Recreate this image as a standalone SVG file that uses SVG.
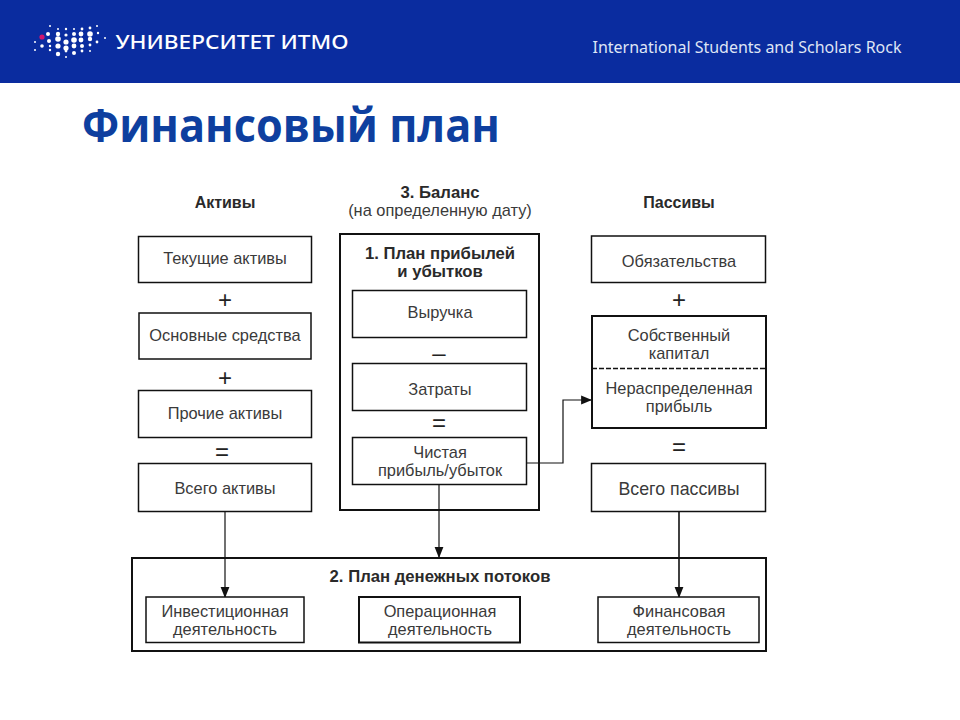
<svg xmlns="http://www.w3.org/2000/svg" width="960" height="720" viewBox="0 0 960 720">
<style>
text{font-family:"Liberation Sans",Arial,sans-serif;text-anchor:middle;fill:#3a3a3a}
.t{font-size:16.4px}
.b{font-size:16.7px;font-weight:bold;fill:#2a2a2a}
.box{fill:#fff;stroke:#111;stroke-width:1.5}
.thick{fill:#fff;stroke:#111;stroke-width:2}
.op{font-size:24px;fill:#222}
.c{fill:none;stroke:#111;stroke-width:1.2}
.d{fill:#fff}
</style>
<defs>
<marker id="a" viewBox="0 0 10 10" refX="9" refY="5" markerWidth="11" markerHeight="11" markerUnits="userSpaceOnUse" orient="auto"><path d="M0 1L10 5L0 9Z" fill="#111"/></marker>
</defs>
<rect width="960" height="83" fill="#0a2c9f"/>
<g id="logo">
<circle cx="42" cy="37" r="2.6" fill="#d0156f"/>
<g class="d">
<circle cx="50" cy="26" r="1"/><circle cx="58" cy="29" r="1"/><circle cx="66" cy="29" r="1.2"/><circle cx="74" cy="29" r="1"/><circle cx="82" cy="29" r="1.4"/><circle cx="90" cy="28" r="1.4"/><circle cx="97" cy="26" r="1"/>
<circle cx="35" cy="42" r="1"/><circle cx="48" cy="34" r="2"/><circle cx="58" cy="34" r="2.2"/><circle cx="66" cy="35" r="1.6"/><circle cx="74" cy="34" r="2"/><circle cx="81" cy="34" r="2.4"/><circle cx="90" cy="34" r="2.8"/><circle cx="98" cy="33" r="1.2"/><circle cx="105" cy="38" r="1"/>
<circle cx="49" cy="41" r="2"/><circle cx="58" cy="39" r="2.8"/><circle cx="66" cy="42" r="2.6"/><circle cx="74" cy="40" r="2.8"/><circle cx="81" cy="40" r="2.4"/><circle cx="90" cy="39" r="2.2"/><circle cx="97" cy="42" r="1.4"/>
<circle cx="42" cy="46" r="1.8"/><circle cx="50" cy="46" r="1.2"/><circle cx="58" cy="46" r="2.6"/><circle cx="66" cy="48" r="2.6"/><circle cx="74" cy="46" r="2.4"/><circle cx="82" cy="46" r="2"/><circle cx="90" cy="45" r="1.4"/>
<circle cx="35" cy="50" r="1"/><circle cx="50" cy="50" r="1.2"/><circle cx="58" cy="54" r="2.2"/><circle cx="66" cy="51" r="1.4"/><circle cx="74" cy="53" r="2"/><circle cx="82" cy="51" r="1.4"/><circle cx="90" cy="51" r="1"/><circle cx="66" cy="57" r="1"/>
</g>
<text x="232" y="49" style="font-family:'Noto Sans',sans-serif;font-size:20px;font-weight:500;fill:#fff" textLength="233" lengthAdjust="spacingAndGlyphs">УНИВЕРСИТЕТ ИТМО</text>
</g>
<text x="747" y="53" style="font-family:'Noto Sans',sans-serif;font-size:16px;fill:#dfe5f5" textLength="309" lengthAdjust="spacingAndGlyphs">International Students and Scholars Rock</text>
<text x="291" y="142" style="font-family:'Open Sans',sans-serif;font-size:47px;font-weight:bold;fill:#0e3f9f" textLength="418" lengthAdjust="spacingAndGlyphs">Финансовый план</text>

<g id="connectors">
<path class="c" d="M225 512V597" marker-end="url(#a)"/>
<path class="c" d="M439 485V557" marker-end="url(#a)"/>
<path class="c" style="stroke-width:1.6" d="M679 512V597" marker-end="url(#a)"/>
<path class="c" d="M525 463H563V400H591" marker-end="url(#a)"/>
</g>

<g id="header-labels">
<text class="b" x="225" y="208" style="font-size:16px">Активы</text>
<text class="b" x="440" y="198">3. Баланс</text>
<text class="t" x="440" y="216">(на определенную дату)</text>
<text class="b" x="679" y="208" style="font-size:16px">Пассивы</text>
</g>

<g id="n-current"><rect class="box" x="138.500" y="236.500" width="173" height="46"/><text class="t" x="225" y="264">Текущие активы</text></g>
<text class="op" x="225" y="308">+</text>
<g id="n-fixed"><rect class="box" x="139" y="313" width="172" height="46"/><text class="t" x="225" y="341">Основные средства</text></g>
<text class="op" x="225" y="386">+</text>
<g id="n-other"><rect class="box" x="138.500" y="390.500" width="173" height="47"/><text class="t" x="225" y="419">Прочие активы</text></g>
<text class="op" x="222" y="460">=</text>
<g id="n-total-assets"><rect class="box" x="138.500" y="463.500" width="173" height="48"/><text class="t" x="225" y="494">Всего активы</text></g>

<g id="n-pl">
<rect class="thick" x="340" y="234" width="199" height="276" style="fill:none"/>
<text class="b" x="440" y="259">1. План прибылей</text>
<text class="b" x="440" y="277">и убытков</text>
</g>
<g id="n-revenue"><rect class="box" x="352.500" y="290.500" width="174" height="47"/><text class="t" x="440" y="318">Выручка</text></g>
<text class="op" x="439" y="361">–</text>
<g id="n-costs"><rect class="box" x="352.500" y="363.500" width="174" height="47"/><text class="t" x="440" y="395">Затраты</text></g>
<text class="op" x="439" y="431">=</text>
<g id="n-net"><rect class="box" x="352.500" y="437.500" width="174" height="47"/><text class="t" x="440" y="458">Чистая</text><text class="t" x="440" y="476">прибыль/убыток</text></g>

<g id="n-liab"><rect class="box" x="591.500" y="236" width="174" height="46.500"/><text class="t" x="679" y="267">Обязательства</text></g>
<text class="op" x="679" y="308">+</text>
<g id="n-equity">
<rect class="thick" x="592" y="316" width="174" height="112"/>
<path d="M592 368.500H766" stroke="#111" stroke-width="1.5" stroke-dasharray="5 2" fill="none"/>
<text class="t" x="679" y="341">Собственный</text>
<text class="t" x="679" y="359">капитал</text>
<text class="t" x="679" y="394">Нераспределенная</text>
<text class="t" x="679" y="412">прибыль</text>
</g>
<text class="op" x="679" y="455">=</text>
<g id="n-total-liab"><rect class="box" x="591.500" y="463.500" width="174" height="48"/><text class="t" x="679" y="495" style="font-size:17.8px">Всего пассивы</text></g>

<g id="n-cash">
<rect class="thick" x="132" y="558" width="634" height="93" style="fill:none"/>
<text class="b" x="440" y="582">2. План денежных потоков</text>
</g>
<g id="n-invest"><rect class="box" x="146" y="597" width="158" height="45.500"/><text class="t" x="225" y="617">Инвестиционная</text><text class="t" x="225" y="635">деятельность</text></g>
<g id="n-oper"><rect class="thick" x="359" y="597" width="161" height="45.500"/><text class="t" x="440" y="617">Операционная</text><text class="t" x="440" y="635">деятельность</text></g>
<g id="n-fin"><rect class="box" x="598" y="597" width="161" height="45.500"/><text class="t" x="679" y="617">Финансовая</text><text class="t" x="679" y="635">деятельность</text></g>
</svg>
